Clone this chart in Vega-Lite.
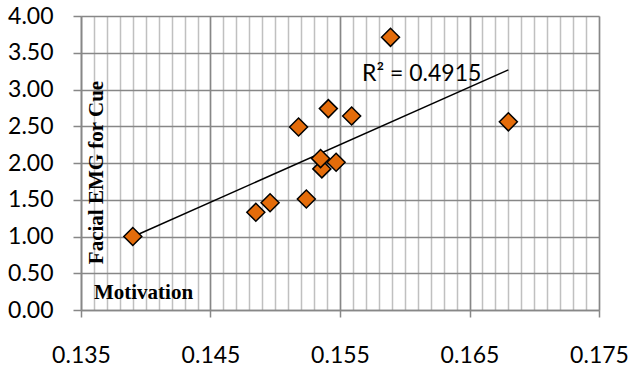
{
  "$schema": "https://vega.github.io/schema/vega-lite/v6.json",
  "width": 518,
  "height": 294,
  "autosize": {"type": "none"},
  "padding": {"left": 81, "top": 16, "right": 31, "bottom": 56},
  "background": "white",
  "config": {"view": {"stroke": null}, "font": "Lato"},
  "data": {
    "values": [
      {"x": 0.1390, "y": 1.00},
      {"x": 0.1485, "y": 1.33},
      {"x": 0.1496, "y": 1.46},
      {"x": 0.1524, "y": 1.51},
      {"x": 0.1518, "y": 2.49},
      {"x": 0.1536, "y": 1.92},
      {"x": 0.1535, "y": 2.06},
      {"x": 0.1547, "y": 2.01},
      {"x": 0.1541, "y": 2.74},
      {"x": 0.1559, "y": 2.64},
      {"x": 0.1589, "y": 3.71},
      {"x": 0.1680, "y": 2.56}
    ]
  },
  "layer": [
    {
      "transform": [{"regression": "y", "on": "x"}],
      "mark": {"type": "line", "color": "black", "strokeWidth": 1.5},
      "encoding": {
        "x": {
          "field": "x", "type": "quantitative",
          "scale": {"domain": [0.135, 0.175], "nice": false, "zero": false},
          "axis": {
            "orient": "bottom", "tickCount": 100,
            "values": [0.135,0.136,0.137,0.138,0.139,0.140,0.141,0.142,0.143,0.144,0.145,0.146,0.147,0.148,0.149,0.150,0.151,0.152,0.153,0.154,0.155,0.156,0.157,0.158,0.159,0.160,0.161,0.162,0.163,0.164,0.165,0.166,0.167,0.168,0.169,0.170,0.171,0.172,0.173,0.174,0.175],
            "grid": true, "gridColor": "#c0c0c0", "gridWidth": 1.5,
            "domain": false, "ticks": false, "labels": false, "title": null
          }
        },
        "y": {
          "field": "y", "type": "quantitative",
          "scale": {"domain": [0, 4], "nice": false},
          "axis": {
            "values": [0, 0.5, 1, 1.5, 2, 2.5, 3, 3.5, 4], "tickCount": 20,
            "format": ".2f", "labelOverlap": false, "labelFlush": false,
            "grid": true, "gridColor": "#878787", "gridWidth": 1.5,
            "domain": true, "domainColor": "#878787", "domainWidth": 1.5,
            "ticks": true, "tickColor": "#878787", "tickWidth": 1.5, "tickSize": 8,
            "labelFont": "Lato", "labelFontSize": 23, "labelColor": "black",
            "labelPadding": 20, "labelBaseline": "middle",
            "title": "Facial EMG for Cue",
            "titleFont": "Liberation Serif", "titleFontWeight": "bold", "titleFontSize": 21,
            "titleColor": "black", "titleAngle": 270, "titleX": 21, "titleY": 156,
            "titleAlign": "center", "titleBaseline": "alphabetic"
          }
        }
      }
    },
    {
      "mark": {"type": "point", "shape": "diamond", "filled": true, "fill": "#E46C0A", "stroke": "black", "strokeWidth": 1.5, "size": 324, "opacity": 1},
      "encoding": {
        "x": {
          "field": "x", "type": "quantitative",
          "axis": {
            "orient": "bottom", "tickCount": 20,
            "values": [0.135, 0.145, 0.155, 0.165, 0.175],
            "format": ".3f", "labelOverlap": false, "labelFlush": false,
            "grid": true, "gridColor": "#878787", "gridWidth": 1.5,
            "domain": true, "domainColor": "#878787", "domainWidth": 1.5,
            "ticks": true, "tickColor": "#878787", "tickWidth": 1.5, "tickSize": 7,
            "labelFont": "Lato", "labelFontSize": 23, "labelColor": "black",
            "labelPadding": 45, "labelBaseline": "alphabetic",
            "title": "Motivation",
            "titleFont": "Liberation Serif", "titleFontWeight": "bold", "titleFontSize": 21,
            "titleColor": "black", "titleX": 62, "titleY": -12,
            "titleAlign": "center", "titleBaseline": "alphabetic"
          }
        },
        "y": {
          "field": "y", "type": "quantitative",
          "axis": {
            "values": [0, 0.5, 1, 1.5, 2, 2.5, 3, 3.5, 4], "tickCount": 20,
            "format": ".2f", "labelOverlap": false, "labelFlush": false,
            "grid": true, "gridColor": "#878787", "gridWidth": 1.5,
            "domain": true, "domainColor": "#878787", "domainWidth": 1.5,
            "ticks": true, "tickColor": "#878787", "tickWidth": 1.5, "tickSize": 8,
            "labelFont": "Lato", "labelFontSize": 23, "labelColor": "black",
            "labelPadding": 20, "labelBaseline": "middle",
            "title": "Facial EMG for Cue",
            "titleFont": "Liberation Serif", "titleFontWeight": "bold", "titleFontSize": 21,
            "titleColor": "black", "titleAngle": 270, "titleX": 21, "titleY": 156,
            "titleAlign": "center", "titleBaseline": "alphabetic"
          }
        }
      }
    },
    {
      "data": {"values": [{"label": "R² = 0.4915"}]},
      "mark": {"type": "text", "font": "Lato", "fontSize": 23, "align": "left", "baseline": "alphabetic", "color": "black"},
      "encoding": {
        "x": {"datum": 0.1567, "type": "quantitative", "axis": null},
        "y": {"datum": 3.12, "type": "quantitative"},
        "text": {"field": "label", "type": "nominal"}
      }
    }
  ],
  "resolve": {"axis": {"x": "independent"}}
}
